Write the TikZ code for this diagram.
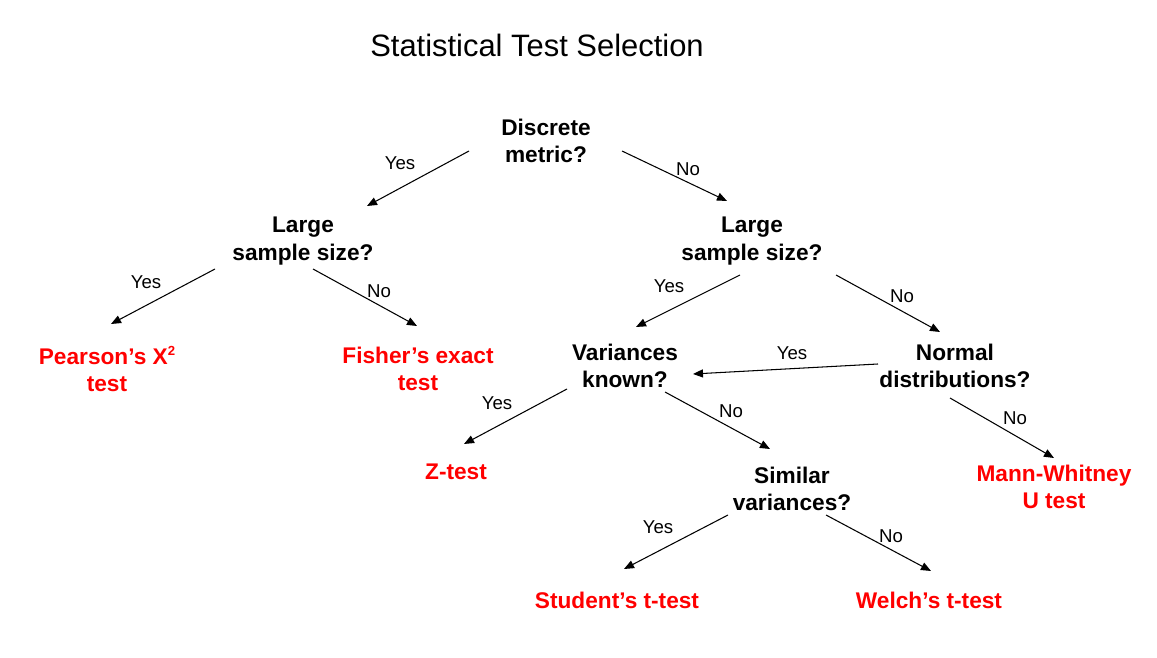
\documentclass[tikz,border=0pt]{standalone}
\usepackage{fontspec}
\setmainfont{Liberation Sans}
\usetikzlibrary{arrows.meta}

\begin{document}
\begin{tikzpicture}[x=0.02cm,y=-0.02cm,
        q/.style={font=\fontsize{12.9}{15.8}\selectfont\bfseries, align=center},
        res/.style={q, text=red},
        lbl/.style={font=\fontsize{10.6}{12}\selectfont},
        arr/.style={-{Triangle[length=5.7pt,width=4.6pt]}, line width=0.6pt}]
            \useasboundingbox (0,0) rectangle (1157,658);
            \node[font=\fontsize{17.6}{21}\selectfont] (title) at (537,45) {Statistical Test Selection};

            \node[q] (disc) at (546,141) {Discrete\\metric?};
            \node[q] (lsl) at (303,241) {Large\\sample size?};
            \node[q] (rsl) at (752,241) {Large\\sample size?};
            \node[res] (pearson) at (107,369) {Pearson’s X\raisebox{0.75ex}{\fontsize{7.5}{8}\selectfont 2}\\test};
            \node[res] (fisher) at (418,369) {Fisher’s exact\\test};
            \node[q] (var) at (625,366) {Variances\\known?};
            \node[q] (normal) at (955,366) {Normal\\distributions?};
            \node[res] (ztest) at (456,472) {Z-test};
            \node[q] (similar) at (792,489) {Similar\\variances?};
            \node[res] (mann) at (1054,487) {Mann-Whitney\\U test};
            \node[res] (student) at (617,600) {Student’s t-test};
            \node[res] (welch) at (929,600) {Welch’s t-test};

            \draw[arr] ([shift={(-77,10)}]disc.center) -- ([shift={(64,-35)}]lsl.center);
            \draw[arr] ([shift={(76,10)}]disc.center) -- ([shift={(-25,-40)}]rsl.center);
            \draw[arr] ([shift={(-88,28)}]lsl.center) -- ([shift={(4,-45)}]pearson.center);
            \draw[arr] ([shift={(10,28)}]lsl.center) -- ([shift={(-1,-43)}]fisher.center);
            \draw[arr] ([shift={(-12,34)}]rsl.center) -- ([shift={(11,-39)}]var.center);
            \draw[arr] ([shift={(84,34)}]rsl.center) -- ([shift={(-15,-34)}]normal.center);
            \draw[arr] ([shift={(-77,-2)}]normal.center) -- ([shift={(68,8)}]var.center);
            \draw[arr] ([shift={(-58,23)}]var.center) -- ([shift={(8,-28)}]ztest.center);
            \draw[arr] ([shift={(40,26)}]var.center) -- ([shift={(-22,-40)}]similar.center);
            \draw[arr] ([shift={(-5,32)}]normal.center) -- ([shift={(0,-29)}]mann.center);
            \draw[arr] ([shift={(-64,26)}]similar.center) -- ([shift={(7,-31)}]student.center);
            \draw[arr] ([shift={(34,26)}]similar.center) -- ([shift={(2,-29)}]welch.center);

            \node[lbl] (y1) at (400,163) {Yes};
            \node[lbl] (n1) at (688,169) {No};
            \node[lbl] (y2) at (146,282) {Yes};
            \node[lbl] (n2) at (379,291) {No};
            \node[lbl] (y3) at (669,286) {Yes};
            \node[lbl] (n3) at (902,296) {No};
            \node[lbl] (y4) at (792,353) {Yes};
            \node[lbl] (y5) at (497,403) {Yes};
            \node[lbl] (n4) at (731,411) {No};
            \node[lbl] (n5) at (1015,418) {No};
            \node[lbl] (y6) at (658,527) {Yes};
            \node[lbl] (n6) at (891,536) {No};
\end{tikzpicture}
\end{document}
